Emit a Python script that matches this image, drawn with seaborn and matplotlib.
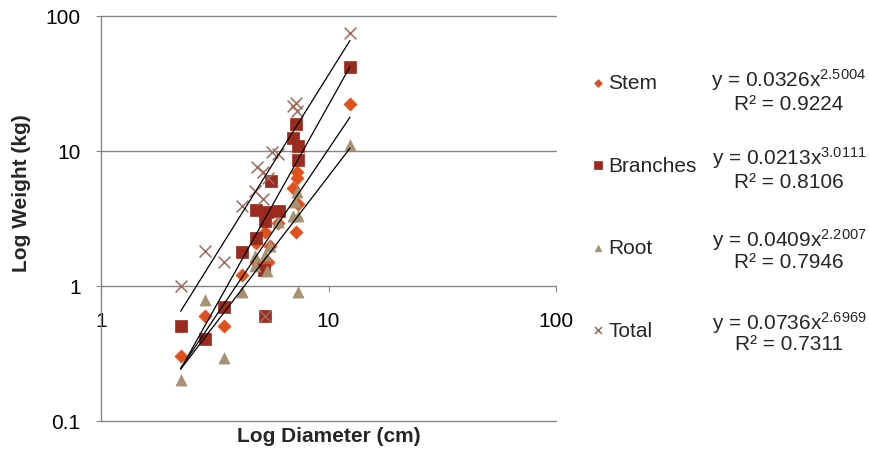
import numpy as np
import matplotlib
matplotlib.use("Agg")
import matplotlib.pyplot as plt
import seaborn as sns

# ---- data ----
stem_x = [2.24, 2.87, 3.47, 4.15, 4.80, 4.80, 5.26, 5.44, 5.53, 6.02, 6.96, 7.17, 7.29, 7.29, 7.37, 12.43]
stem_y = [0.30, 0.60, 0.50, 1.20, 2.06, 1.51, 2.49, 1.49, 1.98, 2.90, 5.27, 2.51, 7.00, 6.25, 4.03, 22.2]

branch_x = [2.24, 2.87, 3.47, 4.15, 4.79, 4.79, 5.26, 5.20, 5.26, 5.38, 5.59, 6.06, 7.00, 7.20, 7.37, 7.37, 12.43]
branch_y = [0.50, 0.40, 0.70, 1.79, 3.66, 2.28, 3.00, 1.31, 0.60, 3.50, 5.94, 3.60, 12.4, 15.8, 10.9, 8.6, 42.0]

root_x = [2.24, 2.87, 3.47, 4.15, 4.76, 4.76, 5.26, 5.38, 5.53, 6.02, 6.96, 7.13, 7.25, 7.37, 7.37, 12.43]
root_y = [0.20, 0.79, 0.29, 0.90, 1.67, 1.41, 1.69, 1.29, 1.98, 2.98, 3.30, 4.15, 4.93, 3.30, 0.90, 11.0]

total_x = [2.24, 2.87, 3.47, 4.15, 4.83, 4.76, 5.17, 5.17, 5.26, 5.44, 5.63, 6.02, 6.95, 7.20, 7.30, 12.43]
total_y = [1.00, 1.81, 1.50, 3.90, 7.54, 5.06, 6.93, 4.39, 0.60, 6.30, 9.80, 9.47, 21.5, 22.6, 19.8, 75.0]

series_names = ["Stem", "Branches", "Root", "Total"]
coef_a = [0.0326, 0.0213, 0.0409, 0.0736]
coef_b = [2.5004, 3.0111, 2.2007, 2.6969]
coef_a_txt = ["0.0326", "0.0213", "0.0409", "0.0736"]
coef_b_txt = ["2.5004", "3.0111", "2.2007", "2.6969"]
r2_txt = ["0.9224", "0.8106", "0.7946", "0.7311"]

x_ticks = [1, 10, 100]
x_tick_labels = ["1", "10", "100"]
y_ticks = [0.1, 1, 10, 100]
y_tick_labels = ["0.1", "1", "10", "100"]

# ---- style ----
sns.set_theme(style="white")
plt.rcParams["font.family"] = ["Liberation Sans", "DejaVu Sans"]
plt.rcParams["mathtext.fontset"] = "custom"
plt.rcParams["mathtext.rm"] = "Liberation Sans"
plt.rcParams["mathtext.it"] = "Liberation Sans:italic"
plt.rcParams["mathtext.bf"] = "Liberation Sans:bold"

FS = 15
GRAY = "#868686"
colors = ["#E0501A", "#9B2B1E", "#A69272", "#A06A5C"]

W, H = 870, 452
fig = plt.figure(figsize=(W / 100, H / 100), dpi=100)
ax = fig.add_axes([101 / W, 1 - 421.7 / H, 455 / W, 404.7 / H])

ax.set_xscale("log")
ax.set_yscale("log")
ax.set_xlim(1, 100)
ax.set_ylim(0.1, 100)

# grid lines (horizontal)
for yv in [0.1, 10, 100]:
    ax.axhline(yv, color=GRAY, lw=1.0, zorder=1, clip_on=False)

xs = [stem_x, branch_x, root_x, total_x]
ys = [stem_y, branch_y, root_y, total_y]
markers = ["D", "s", "^", "x"]
sizes = [44, 72, 64, 72]

for i in range(4):
    if markers[i] == "x":
        sns.scatterplot(x=xs[i], y=ys[i], marker="x", s=sizes[i], color=colors[i],
                        linewidth=1.1, label=series_names[i], ax=ax, zorder=3)
    else:
        sns.scatterplot(x=xs[i], y=ys[i], marker=markers[i], s=sizes[i], color=colors[i],
                        edgecolor=colors[i], linewidth=0.5, label=series_names[i], ax=ax, zorder=3)

# power trend lines (from displayed equations)
for i in range(4):
    xx = np.geomspace(min(xs[i]), max(xs[i]), 50)
    ax.plot(xx, coef_a[i] * xx ** coef_b[i], color="black", lw=0.9, zorder=4)

# axes styling
for s in ["top", "right"]:
    ax.spines[s].set_visible(False)
ax.spines["left"].set_color(GRAY)
ax.spines["left"].set_linewidth(1.0)
ax.spines["bottom"].set_position(("data", 1))
ax.spines["bottom"].set_color(GRAY)
ax.spines["bottom"].set_linewidth(1.0)

ax.xaxis.set_minor_locator(matplotlib.ticker.NullLocator())
ax.yaxis.set_minor_locator(matplotlib.ticker.NullLocator())
ax.set_xticks(x_ticks)
ax.set_xticklabels(x_tick_labels)
ax.set_yticks(y_ticks)
ax.set_yticklabels(y_tick_labels)
ax.tick_params(axis="x", direction="out", length=4.3, width=0.75, color=GRAY,
               pad=14, labelsize=FS, labelcolor="black", bottom=True)
ax.tick_params(axis="y", direction="out", length=3.6, width=0.75, color=GRAY,
               pad=11, labelsize=FS, labelcolor="black", left=True)
ax.set_xlabel("")
ax.set_ylabel("")

fig.text(329 / W, 1 - 437 / H, "Log Diameter (cm)", fontsize=FS, fontweight="bold",
         ha="center", va="center")
fig.text(22 / W, 1 - 193 / H, "Log Weight (kg)", fontsize=FS, fontweight="bold",
         rotation=90, ha="center", va="center")

# legend
handles, labels = ax.get_legend_handles_labels()
if ax.get_legend() is not None:
    ax.get_legend().remove()
fig.legend(handles, labels, loc="upper left", bbox_to_anchor=(591.7 / W, 1 - 74 / H),
           frameon=False, fontsize=FS, markerscale=0.6, handlelength=0.6,
           handletextpad=0.2, labelspacing=3.05, borderpad=0, borderaxespad=0)

# trendline equations
eq_y = [80, 158, 240, 323]
r2_y = [104, 182, 262, 345]
for i in range(4):
    fig.text(789 / W, 1 - eq_y[i] / H,
             "y = " + coef_a_txt[i] + "x$^{" + coef_b_txt[i] + "}$",
             fontsize=FS, ha="center", va="center")
    fig.text(789 / W, 1 - r2_y[i] / H, "R² = " + r2_txt[i],
             fontsize=FS, ha="center", va="center")

fig.savefig("out.png", dpi=100)
